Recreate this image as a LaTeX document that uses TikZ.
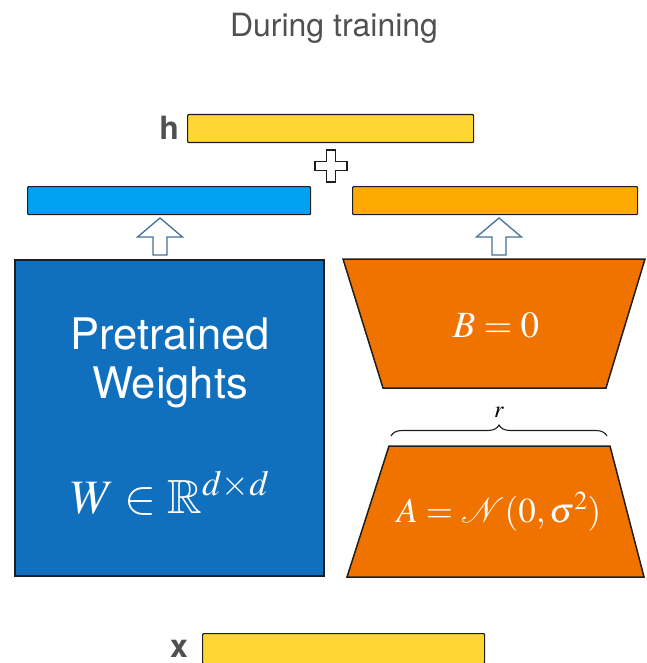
\documentclass[tikz,border=0pt]{standalone}
\usepackage{mathptmx}
\usepackage{amssymb}
\usepackage{fontspec}
\setsansfont{TeX Gyre Heros}
\usetikzlibrary{decorations.pathreplacing}
\definecolor{ybar}{RGB}{255,214,52}
\definecolor{bbar}{RGB}{0,162,240}
\definecolor{obar}{RGB}{255,170,0}
\definecolor{bbox}{RGB}{17,112,189}
\definecolor{obox}{RGB}{240,115,0}
\definecolor{arrowc}{RGB}{65,113,156}
\definecolor{labgray}{RGB}{80,80,80}
\definecolor{edge}{RGB}{30,30,30}
\begin{document}
\begin{tikzpicture}[x=1pt,y=-1pt,
  bar/.style={draw=edge, line width=1.2pt, rounded corners=1pt, inner sep=0pt, anchor=north west},
  bigbox/.style={draw=edge, line width=1.5pt},
  hollow/.style={draw=arrowc, fill=white, line width=1.3pt, line join=miter},
  plusst/.style={draw=edge, fill=white, line width=1.1pt},
  lab/.style={font=\sffamily\bfseries\fontsize{32}{36}\selectfont, text=labgray, anchor=base east, inner sep=0pt},
  wtext/.style={text=white, anchor=base, inner sep=0pt}]
\useasboundingbox (0,0) rectangle (646,663);
% title
\node[font=\sffamily\fontsize{32}{38}\selectfont, text=labgray, anchor=base, inner sep=0pt] (title) at (334,37) {During training};
% bars
\node[bar, fill=ybar, minimum width=286pt, minimum height=28pt] (hbar) at (187,114) {};
\node[lab] (hlab) at (179,140) {h};
\node[bar, fill=bbar, minimum width=283pt, minimum height=28pt] (wbar) at (27,186) {};
\node[bar, fill=obar, minimum width=285pt, minimum height=28pt] (abar) at (352,186) {};
\node[bar, fill=ybar, minimum width=282pt, minimum height=30pt] (xbar) at (202,633) {};
\node[lab] (xlab) at (188,657) {x};
% plus
\draw[plusst] (326.5,150) -- (335.5,150) -- (335.5,161.5) -- (347,161.5) -- (347,170.5) -- (335.5,170.5) -- (335.5,182) -- (326.5,182) -- (326.5,170.5) -- (315,170.5) -- (315,161.5) -- (326.5,161.5) -- cycle;
% hollow arrows
\foreach \cx in {160,499}{
  \draw[hollow] (\cx,218) -- (\cx+22.5,237) -- (\cx+7,237) -- (\cx+7,255) -- (\cx-7,255) -- (\cx-7,237) -- (\cx-22.5,237) -- cycle;
}
% pretrained weights box
\node[bigbox, fill=bbox, minimum width=309pt, minimum height=316pt, inner sep=0pt, anchor=north west] (wbox) at (14,259) {};
\node[wtext, font=\sffamily\fontsize{43.5}{48}\selectfont] (pt1) at (170,349) {Pretrained};
\node[wtext, font=\sffamily\fontsize{43.5}{48}\selectfont] (pt2) at (170,398) {Weights};
\node[wtext, font=\fontsize{48}{54}\selectfont] (wmath) at (170,513) {$W \in \mathbb{R}^{d\times d}$};
% B trapezoid
\draw[bigbox, fill=obox] (343,259) -- (645,259) -- (606,388) -- (383,388) -- cycle;
\node[wtext, font=\fontsize{37}{40}\selectfont] (bmath) at (496,337) {$B = 0$};
% brace
\coordinate (brL) at (391,436);
\coordinate (brR) at (607,436);
\draw[line width=1.1pt, edge, decorate, decoration={brace, amplitude=11pt}] (brL) -- (brR);
\node[anchor=base, inner sep=0pt, font=\fontsize{24}{28}\selectfont] (rlab) at (499,417) {$r$};
% A trapezoid
\draw[bigbox, fill=obox] (389,446) -- (610,446) -- (644,577) -- (347,577) -- cycle;
\node[wtext, font=\fontsize{35}{40}\selectfont] (amath) at (499,522) {$A = \mathcal{N}(0, \sigma^2)$};
\end{tikzpicture}
\end{document}
